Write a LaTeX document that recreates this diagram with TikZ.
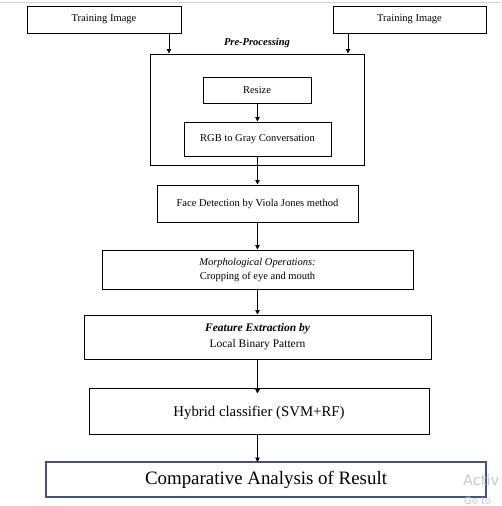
\documentclass[tikz,border=0pt]{standalone}
\usepackage{fontspec}
\setmainfont{Liberation Serif}
\newfontfamily\wmfont{DejaVu Sans}
\usetikzlibrary{arrows.meta}
\definecolor{compblue}{RGB}{64,82,138}
\definecolor{wmgray}{RGB}{200,200,200}
\tikzset{
  box/.style={draw=black, line width=1pt, inner sep=0pt, align=center, font=\fontsize{10.5}{14}\selectfont},
  arr/.style={line width=1pt, -{Triangle[length=4.5pt,width=4.5pt]}},
}
\begin{document}
\begin{tikzpicture}[x=1pt,y=-1pt]
\useasboundingbox (0,0) rectangle (501,506);
\draw[wmgray!80, line width=1pt] (0,2.5) -- (501,2.5);
% top boxes
\node[box, minimum width=154pt, minimum height=27pt] (t1) at (104,19.5) {Training Image};
\node[box, minimum width=153pt, minimum height=27pt] (t2) at (409.5,19.5) {Training Image};
% pre-processing
\node[box, minimum width=214pt, minimum height=111pt] (pre) at (257,109.5) {};
\node[font=\fontsize{10.5}{12}\selectfont\bfseries\itshape] (prel) at (257,43) {Pre-Processing};
\node[box, minimum width=108pt, minimum height=26pt] (rs) at (257,90) {Resize};
\node[box, minimum width=147pt, minimum height=34pt] (rgb) at (257.5,139) {RGB to Gray Conversation};
\node[box, minimum width=201pt, minimum height=37pt] (fd) at (257.5,203.5) {Face Detection by Viola Jones method};
\node[box, minimum width=311pt, minimum height=39pt] (mo) at (257.5,269.5) {\textit{Morphological Operations:}\\Cropping of eye and mouth};
\node[box, minimum width=347pt, minimum height=44pt, font=\fontsize{11.5}{16}\selectfont] (fe) at (257.5,337) {\textbf{\textit{Feature Extraction by}}\\Local Binary Pattern};
\node[box, minimum width=340pt, minimum height=46pt, font=\fontsize{14.8}{16}\selectfont, text depth=0pt] (hy) at (259,411) {Hybrid classifier (SVM+RF)};
\node[box, draw=compblue, line width=2pt, minimum width=440pt, minimum height=35pt, font=\fontsize{18.9}{20}\selectfont] (co) at (266,479.5) {Comparative Analysis of Result};
% watermark (clipped in the reference)
\node[anchor=base west, inner sep=0pt, text=wmgray, font=\wmfont\fontsize{14.5}{14.5}\selectfont] (wm1) at (463,485) {Activ};
\node[anchor=base west, inner sep=0pt, text=wmgray, font=\wmfont\fontsize{10}{10}\selectfont] (wm2) at (464,504) {Go to};
% connectors
\coordinate (la) at (169,0);
\coordinate (ra) at (348,0);
\coordinate (ca) at (257.5,0);
\draw[arr] (t1.south -| la) -- (pre.north -| la);
\draw[arr] (t2.south -| ra) -- (pre.north -| ra);
\draw[arr] (rs.south -| ca) -- (rgb.north -| ca);
\draw[arr] (rgb.south -| ca) -- (fd.north -| ca);
\draw[arr] (fd.south -| ca) -- (mo.north -| ca);
\draw[arr] (mo.south -| ca) -- (fe.north -| ca);
\draw[arr] (fe.south -| ca) -- ([yshift=-6pt]hy.north -| ca);
\draw[arr] (hy.south -| ca) -- ([yshift=-1pt]co.north -| ca);
\end{tikzpicture}
\end{document}
